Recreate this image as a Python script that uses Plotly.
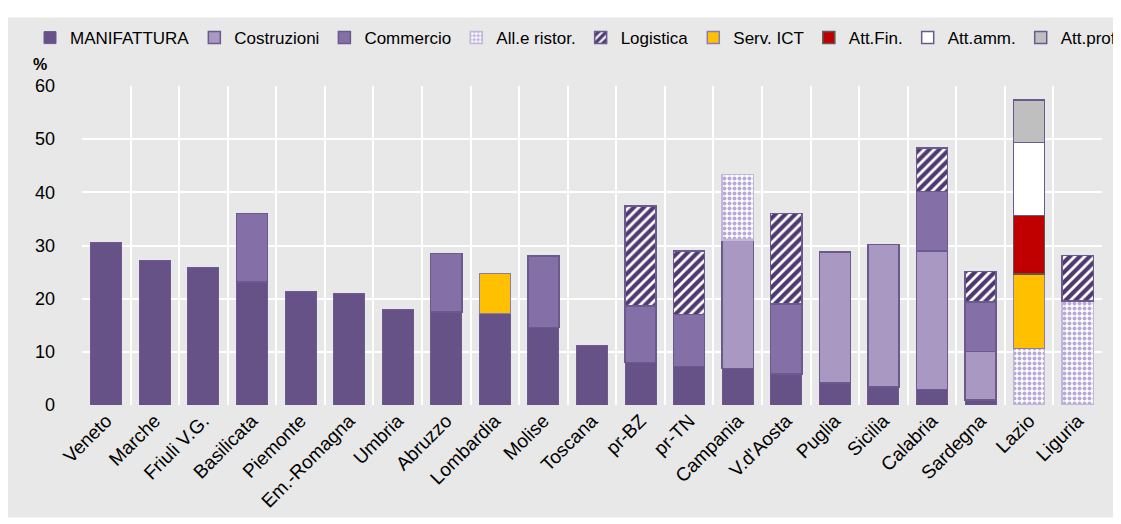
import plotly.graph_objects as go

regions = ["Veneto", "Marche", "Friuli V.G.", "Basilicata", "Piemonte", "Em.-Romagna",
           "Umbria", "Abruzzo", "Lombardia", "Molise", "Toscana", "pr-BZ", "pr-TN",
           "Campania", "V.d'Aosta", "Puglia", "Sicilia", "Calabria", "Sardegna",
           "Lazio", "Liguria"]

manifattura = [30.6, 27.1, 25.9, 23.1, 21.4, 21.0, 17.9, 17.5, 17.2, 14.6, 11.2, 8.0, 7.2,
               6.9, 5.8, 4.1, 3.4, 2.9, 0.9, None, None]
costruzioni = [None, None, None, None, None, None, None, None, None, None, None, None, None,
               24.1, None, 24.7, 26.8, 26.1, 9.2, None, None]
commercio = [None, None, None, 12.9, None, None, None, 11.0, None, 13.4, None, 10.6, 9.8,
             None, 13.2, None, None, 11.2, 9.3, None, None]
alle_ristor = [None, None, None, None, None, None, None, None, None, None, None, None, None,
               12.4, None, None, None, None, None, 10.6, 19.6]
logistica = [None, None, None, None, None, None, None, None, None, None, None, 18.8, 12.0,
             None, 17.0, None, None, 8.1, 5.7, None, 8.5]
serv_ict = [None, None, None, None, None, None, None, None, 7.5, None, None, None, None,
            None, None, None, None, None, None, 14.05, None]
att_fin = [None] * 19 + [10.95, None]
att_amm = [None] * 19 + [13.8, None]
att_prof = [None] * 19 + [8.0, None]

y_ticks = [0, 10, 20, 30, 40, 50, 60]

FONT = "Liberation Sans, Arial, sans-serif"
PURPLE_LINE = "#6b5a8e"
xs = list(range(len(regions)))

series = [
    dict(name="MANIFATTURA", y=manifattura, color="#665287", line="#6d5a92", lw=1, pattern=None),
    dict(name="Costruzioni", y=costruzioni, color="#a999c2", line=PURPLE_LINE, lw=1.5, pattern=None),
    dict(name="Commercio", y=commercio, color="#8470a6", line=PURPLE_LINE, lw=1.5, pattern=None),
    dict(name="All.e ristor.", y=alle_ristor, color="#b8aad8", line="#c2b6da", lw=1.5,
         pattern=dict(shape=".", fgcolor="#b8aad8", fgopacity=1, bgcolor="white",
                      size=5, solidity=0.5)),
    dict(name="Logistica", y=logistica, color="#4e3a70", line=PURPLE_LINE, lw=1.5,
         pattern=dict(shape="/", fgcolor="#4e3a70", fgopacity=1, bgcolor="white",
                      size=7, solidity=0.6)),
    dict(name="Serv. ICT", y=serv_ict, color="#ffc000", line="#8c7bb0", lw=1.5, pattern=None),
    dict(name="Att.Fin.", y=att_fin, color="#c00000", line="#595959", lw=1.5, pattern=None),
    dict(name="Att.amm.", y=att_amm, color="white", line=PURPLE_LINE, lw=1.5, pattern=None),
    dict(name="Att.prof", y=att_prof, color="#bfbfbf", line=PURPLE_LINE, lw=1.5, pattern=None),
]

fig = go.Figure()
for s in series:
    marker = dict(color=s["color"], line=dict(color=s["line"], width=s["lw"]))
    if s["pattern"] is not None:
        marker["pattern"] = s["pattern"]
    fig.add_trace(go.Bar(x=xs, y=s["y"], name=s["name"], marker=marker))

# page has an 8px body margin, so the figure is sized/offset accordingly
OFF = 8
W, H = 1121 - OFF, 524 - OFF
L, R, T, B = 82 - OFF, 19, 82 - OFF, 116
pw, ph = W - L - R, H - T - B

def px_x(p):  # page pixel -> paper x
    return (p - OFF - L) / pw

def px_y(p):  # page pixel -> paper y
    return (H - B - (p - OFF)) / ph

fig.add_shape(type="rect", xref="paper", yref="paper",
              x0=px_x(6), x1=px_x(1130), y0=px_y(523), y1=px_y(12),
              fillcolor="#e8e8e8", line=dict(width=0), layer="below")

fig.add_annotation(text="<b>%</b>", xref="paper", yref="paper",
                   x=px_x(31), y=px_y(60), yanchor="bottom", yshift=-11, showarrow=False,
                   font=dict(family=FONT, size=16, color="black"))

fig.update_layout(
    width=W, height=H,
    barmode="stack", bargap=0.36,
    margin=dict(l=L, r=R, t=T, b=B, pad=0),
    paper_bgcolor="white", plot_bgcolor="rgba(0,0,0,0)",
    font=dict(family=FONT, size=17, color="black"),
    legend=dict(orientation="h", x=px_x(46), xanchor="left", y=px_y(33), yanchor="middle",
                bgcolor="rgba(0,0,0,0)", font=dict(family=FONT, size=17, color="black"),
                traceorder="normal", itemwidth=30, tracegroupgap=0),
    showlegend=True,
)

fig.update_xaxes(
    range=[-0.5, len(regions) - 0.5],
    tickmode="array", tickvals=xs, ticktext=regions,
    tickangle=-45, showgrid=False, zeroline=False, showline=False, ticks="",
    tickfont=dict(family=FONT, size=19, color="black"),
    minor=dict(tickmode="array", tickvals=[i - 0.5 for i in range(len(regions) + 1)],
               showgrid=True, gridcolor="white", gridwidth=2, ticks=""),
)
fig.update_yaxes(
    range=[0, 60], tickmode="array", tickvals=y_ticks,
    showgrid=True, gridcolor="white", gridwidth=2,
    zeroline=False, showline=False, ticks="",
    ticklabelstandoff=26,
    tickfont=dict(family=FONT, size=18, color="black"),
)

fig.write_html("out.html")
